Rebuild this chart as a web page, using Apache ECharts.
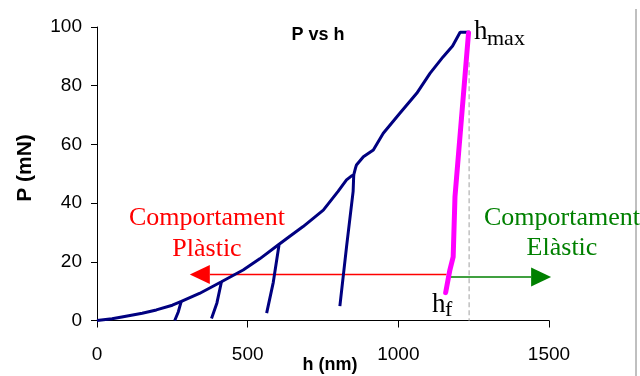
<!DOCTYPE html>
<html>
<head>
<meta charset="utf-8">
<script src="https://cdn.jsdelivr.net/npm/echarts@6/dist/echarts.min.js"></script>
<style>
html, body { margin: 0; padding: 0; background: #fff; }
#chart { width: 640px; height: 376px; }
</style>
</head>
<body>
<div id="chart"></div>
<script>
// eixos
var xTicks = [0, 500, 1000, 1500];
var yTicks = [0, 20, 40, 60, 80, 100];

// corba de càrrega [h (nm), P (mN)]
var loadCurve = [
  [0, 0], [50, 0.6], [87, 1.3], [150, 2.5], [197, 3.6], [250, 5.2], [280, 6.5],
  [340, 9.2], [413, 13.2], [485, 17.2], [540, 21], [601, 25.7], [640, 28.7],
  [684, 32], [751, 37.6], [800, 44], [828, 47.9], [845, 49.3], [852, 49.6],
  [858, 52], [861, 53], [884, 55.8], [917, 58.1], [950, 63.8], [1005, 70.6],
  [1061, 77.4], [1105, 84.2], [1149, 89.9], [1180, 93.5], [1205, 98.2], [1238, 98.2]
];

// descàrregues parcials
var unload1 = [[280, 6.7], [270, 3], [258, 0]];
var unload2 = [[413, 13.2], [398, 6], [380, 0.7]];
var unload3 = [[604, 25.7], [585, 13], [563, 2.5]];
var unload4 = [[852, 49.6], [850, 44], [828, 25], [806, 4.9]];

// descàrrega final (rosa)
var unloadFinal = [[1233, 98], [1188, 42.2], [1182, 21.7], [1171, 17.2], [1157, 9.5]];

// línia h max
var hmaxLine = [[1235, 88], [1235, 0]];

// fletxes [h0, P0, h1, P1]
var arrowPlastic = [1160, 15.7, 308, 15.7];
var arrowElastic = [1160, 14.8, 1507, 14.8];

var chart = echarts.init(document.getElementById('chart'));

function arrowItem(color) {
  return function (params, api) {
    var p0 = api.coord([api.value(0), api.value(1)]);
    var p1 = api.coord([api.value(2), api.value(3)]);
    var dx = p1[0] - p0[0], dy = p1[1] - p0[1];
    var len = Math.sqrt(dx * dx + dy * dy);
    var ux = dx / len, uy = dy / len;
    var headL = 20, headW = 9.5;
    var bx = p1[0] - ux * headL, by = p1[1] - uy * headL;
    return {
      type: 'group',
      children: [{
        type: 'line',
        shape: { x1: p0[0], y1: p0[1], x2: bx, y2: by },
        style: { stroke: color, lineWidth: 1.5 }
      }, {
        type: 'polygon',
        shape: { points: [[p1[0], p1[1]], [bx - uy * headW, by + ux * headW], [bx + uy * headW, by - ux * headW]] },
        style: { fill: color }
      }]
    };
  };
}

function navy(data) {
  return {
    type: 'line', data: data, showSymbol: false, symbol: 'none', smooth: false,
    lineStyle: { color: '#000080', width: 3 }, z: 3, animation: false
  };
}

var serif = '"Liberation Serif", "Times New Roman", serif';
var sans = '"Liberation Sans", Arial, sans-serif';

option = {
  animation: false,
  grid: { left: 97, right: 91, top: 27, bottom: 55.5 },
  xAxis: {
    type: 'value',
    min: xTicks[0], max: xTicks[xTicks.length - 1], interval: xTicks[1] - xTicks[0],
    splitLine: { show: false },
    axisLine: { lineStyle: { color: '#000', width: 1 } },
    axisTick: { length: 7, lineStyle: { color: '#000' } },
    axisLabel: {
      color: '#000', fontSize: 19, fontFamily: sans, margin: 25,
      formatter: function (v) { return String(v); }
    }
  },
  yAxis: {
    type: 'value',
    min: yTicks[0], max: yTicks[yTicks.length - 1], interval: yTicks[1] - yTicks[0],
    splitLine: { show: false },
    axisLine: { show: true, lineStyle: { color: '#000', width: 1 } },
    axisTick: { show: true, length: 6, lineStyle: { color: '#000' } },
    axisLabel: { color: '#000', fontSize: 19, fontFamily: sans, margin: 15 }
  },
  series: [
    {
      type: 'line', data: hmaxLine, symbol: 'none', z: 1,
      lineStyle: { color: '#c0c0c0', width: 1.5, type: [5, 3] }
    },
    {
      type: 'custom', renderItem: arrowItem('#ff0000'), data: [arrowPlastic],
      encode: { x: [0, 2], y: [1, 3] }, z: 2
    },
    {
      type: 'custom', renderItem: arrowItem('#008000'), data: [arrowElastic],
      encode: { x: [0, 2], y: [1, 3] }, z: 2
    },
    navy(loadCurve),
    navy(unload1),
    navy(unload2),
    navy(unload3),
    navy(unload4),
    {
      type: 'line', data: unloadFinal, symbol: 'none', z: 4,
      lineStyle: { color: '#ff00ff', width: 5, cap: 'round' }
    }
  ],
  graphic: [
    { type: 'line', shape: { x1: 636, y1: 9, x2: 636, y2: 376 }, style: { stroke: '#808080', lineWidth: 1 } },
    { type: 'text', x: 318, y: 35, style: { text: 'P vs h', font: 'bold 18px ' + sans, fill: '#000', textAlign: 'center', textVerticalAlign: 'middle' } },
    { type: 'text', x: 330, y: 365, style: { text: 'h (nm)', font: 'bold 18px ' + sans, fill: '#000', textAlign: 'center', textVerticalAlign: 'middle' } },
    { type: 'text', x: 25, y: 168, rotation: Math.PI / 2, style: { text: 'P (mN)', font: 'bold 21px ' + sans, fill: '#000', textAlign: 'center', textVerticalAlign: 'middle' } },
    { type: 'text', x: 207, y: 218, style: { text: 'Comportament', font: '26px ' + serif, fill: '#ff0000', textAlign: 'center', textVerticalAlign: 'middle' } },
    { type: 'text', x: 207, y: 249, style: { text: 'Plàstic', font: '26px ' + serif, fill: '#ff0000', textAlign: 'center', textVerticalAlign: 'middle' } },
    { type: 'text', x: 562, y: 218, style: { text: 'Comportament', font: '26px ' + serif, fill: '#008000', textAlign: 'center', textVerticalAlign: 'middle' } },
    { type: 'text', x: 562, y: 248, style: { text: 'Elàstic', font: '26px ' + serif, fill: '#008000', textAlign: 'center', textVerticalAlign: 'middle' } },
    { type: 'text', x: 474, y: 32, style: { text: 'h', font: '27px ' + serif, fill: '#000', textAlign: 'left', textVerticalAlign: 'middle' } },
    { type: 'text', x: 487, y: 39, style: { text: 'max', font: '22px ' + serif, fill: '#000', textAlign: 'left', textVerticalAlign: 'middle' } },
    { type: 'text', x: 432, y: 305, style: { text: 'h', font: '27px ' + serif, fill: '#000', textAlign: 'left', textVerticalAlign: 'middle' } },
    { type: 'text', x: 445, y: 310, style: { text: 'f', font: '22px ' + serif, fill: '#000', textAlign: 'left', textVerticalAlign: 'middle' } }
  ]
};
chart.setOption(option);
</script>
</body>
</html>
